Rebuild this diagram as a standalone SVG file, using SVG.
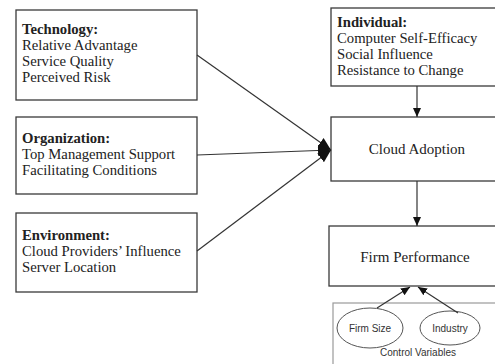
<svg xmlns="http://www.w3.org/2000/svg" width="495" height="364" viewBox="0 0 495 364">
<style>
.box{fill:#fff;stroke:#3a3a3a;stroke-width:1.3}
.cv{fill:#fff;stroke:#9a9a9a;stroke-width:1.2}
.ell{fill:#fff;stroke:#555;stroke-width:1}
.t{font-family:"Liberation Serif","Times New Roman",serif;font-size:14.7px;fill:#222}
.b{font-weight:bold}
.c{font-family:"Liberation Serif","Times New Roman",serif;font-size:15px;fill:#222;text-anchor:middle}
.s{font-family:"Liberation Sans",Arial,sans-serif;font-size:10px;fill:#333;text-anchor:middle}
.ln{stroke:#333;stroke-width:1.2;fill:none}
</style>
<defs>
<marker id="ah" markerWidth="10" markerHeight="10" refX="9" refY="5" orient="auto" markerUnits="userSpaceOnUse">
<path d="M0,1 L9,5 L0,9 Z" fill="#111"/>
</marker>
<marker id="big" markerWidth="14" markerHeight="14" refX="13" refY="7" orient="auto" markerUnits="userSpaceOnUse">
<path d="M0,1.5 L13,7 L0,12.5 Z" fill="#111"/>
</marker>
</defs>
<rect width="495" height="364" fill="#fff"/>
<g id="technology">
<rect class="box" x="16" y="10" width="181" height="90"/>
<text class="t b" x="22" y="34">Technology:</text>
<text class="t" x="22" y="50">Relative Advantage</text>
<text class="t" x="22" y="66">Service Quality</text>
<text class="t" x="22" y="82">Perceived Risk</text>
</g>
<g id="organization">
<rect class="box" x="16" y="117" width="181" height="77"/>
<text class="t b" x="22" y="143">Organization:</text>
<text class="t" x="22" y="159">Top Management Support</text>
<text class="t" x="22" y="175">Facilitating Conditions</text>
</g>
<g id="environment">
<rect class="box" x="16" y="213" width="181" height="79"/>
<text class="t b" x="22" y="240">Environment:</text>
<text class="t" x="22" y="256">Cloud Providers’ Influence</text>
<text class="t" x="22" y="272">Server Location</text>
</g>
<g id="individual">
<rect class="box" x="331" y="8" width="170" height="78"/>
<text class="t b" x="337" y="27">Individual:</text>
<text class="t" x="337" y="43">Computer Self-Efficacy</text>
<text class="t" x="337" y="59">Social Influence</text>
<text class="t" x="337" y="75">Resistance to Change</text>
</g>
<g id="cloud-adoption">
<rect class="box" x="331" y="117" width="170" height="64"/>
<text class="c" x="417" y="154">Cloud Adoption</text>
</g>
<g id="firm-performance">
<rect class="box" x="329" y="226" width="172" height="60"/>
<text class="c" x="415" y="262">Firm Performance</text>
</g>
<g id="control-variables">
<rect class="cv" x="333" y="303" width="170" height="70"/>
<text class="s" x="418" y="356">Control Variables</text>
</g>
<g id="firm-size">
<ellipse class="ell" cx="370" cy="328" rx="33" ry="20"/>
<text class="s" x="370" y="332">Firm Size</text>
</g>
<g id="industry">
<ellipse class="ell" cx="450" cy="328" rx="30" ry="17"/>
<text class="s" x="450" y="332">Industry</text>
</g>
<g id="connectors">
<line class="ln" x1="197" y1="55" x2="331" y2="150" marker-end="url(#big)"/>
<line class="ln" x1="197" y1="155" x2="331" y2="150" marker-end="url(#big)"/>
<line class="ln" x1="197" y1="251" x2="331" y2="150" marker-end="url(#big)"/>
<line class="ln" x1="417" y1="86" x2="417" y2="117" marker-end="url(#ah)"/>
<line class="ln" x1="417" y1="181" x2="417" y2="226" marker-end="url(#ah)"/>
<line class="ln" x1="377" y1="308" x2="410" y2="287" marker-end="url(#ah)"/>
<line class="ln" x1="458" y1="313" x2="418" y2="287" marker-end="url(#ah)"/>
</g>
</svg>
